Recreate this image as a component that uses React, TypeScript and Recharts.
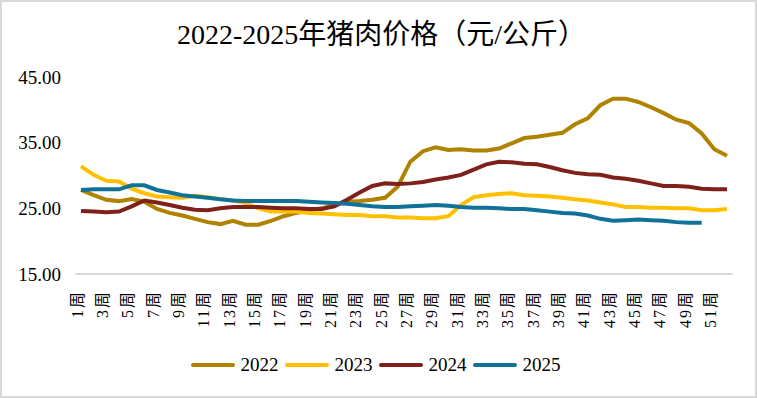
import React from 'react';
import { Legend, Line, LineChart, XAxis, YAxis } from 'recharts';

const FONT = "'Times New Roman', 'Liberation Serif', 'Noto Sans CJK SC', serif";

const weeks = [
  '1周', '2周', '3周', '4周', '5周', '6周', '7周', '8周', '9周', '10周',
  '11周', '12周', '13周', '14周', '15周', '16周', '17周', '18周', '19周', '20周',
  '21周', '22周', '23周', '24周', '25周', '26周', '27周', '28周', '29周', '30周',
  '31周', '32周', '33周', '34周', '35周', '36周', '37周', '38周', '39周', '40周',
  '41周', '42周', '43周', '44周', '45周', '46周', '47周', '48周', '49周', '50周',
  '51周', '52周',
];

const price2022 = [
  27.8, 27.0, 26.3, 26.1, 26.4, 26.0, 24.9, 24.3, 23.9, 23.4,
  22.9, 22.6, 23.1, 22.5, 22.5, 23.1, 23.8, 24.3, 24.7, 25.0,
  25.5, 26.0, 26.1, 26.3, 26.6, 28.3, 32.1, 33.7, 34.3, 33.9,
  34.0, 33.8, 33.8, 34.1, 34.9, 35.7, 35.9, 36.2, 36.5, 37.8,
  38.7, 40.7, 41.7, 41.7, 41.2, 40.4, 39.5, 38.5, 38.0, 36.4,
  34.0, 33.0,
];

const price2023 = [
  31.4, 30.1, 29.2, 29.1, 28.0, 27.3, 26.8, 26.7, 26.6, 26.9,
  26.7, 26.4, 26.2, 25.8, 25.0, 24.5, 24.5, 24.5, 24.3, 24.2,
  24.1, 24.0, 24.0, 23.8, 23.8, 23.6, 23.6, 23.5, 23.5, 23.8,
  25.5, 26.7, 27.0, 27.2, 27.3, 27.0, 26.9, 26.8, 26.6, 26.4,
  26.2, 25.9, 25.6, 25.2, 25.2, 25.1, 25.1, 25.0, 25.0, 24.7,
  24.7, 24.9,
];

const price2024 = [
  24.6, 24.5, 24.4, 24.5, 25.3, 26.2, 25.9, 25.5, 25.1, 24.8,
  24.7, 25.0, 25.2, 25.2, 25.2, 25.1, 25.0, 25.0, 24.9, 24.9,
  25.3, 26.3, 27.4, 28.4, 28.8, 28.7, 28.8, 29.0, 29.4, 29.7,
  30.1, 30.9, 31.7, 32.1, 32.0, 31.8, 31.7, 31.3, 30.8, 30.4,
  30.2, 30.1, 29.7, 29.5, 29.2, 28.8, 28.4, 28.4, 28.3, 28.0,
  27.9, 27.9,
];

const price2025 = [
  27.8, 27.9, 27.9, 27.9, 28.5, 28.5, 27.8, 27.4, 27.0, 26.8,
  26.6, 26.4, 26.2, 26.1, 26.1, 26.1, 26.1, 26.1, 26.0, 25.9,
  25.8, 25.7, 25.5, 25.3, 25.2, 25.2, 25.3, 25.4, 25.5, 25.4,
  25.2, 25.1, 25.1, 25.0, 24.9, 24.9, 24.7, 24.5, 24.3, 24.2,
  23.9, 23.4, 23.1, 23.2, 23.3, 23.2, 23.1, 22.9, 22.8, 22.8,
];

const yTicks = [15, 25, 35, 45];

const data = weeks.map((week, i) => ({
  week,
  y2022: price2022[i] ?? null,
  y2023: price2023[i] ?? null,
  y2024: price2024[i] ?? null,
  y2025: price2025[i] ?? null,
}));

const WeekTick = (props: any) => {
  const { x, y, payload } = props;
  return (
    <text
      x={0}
      y={0}
      dy={-4}
      transform={`translate(${x},${y + 8}) rotate(-90)`}
      textAnchor="end"
      dominantBaseline="central"
      fontSize={16}
      fontFamily={FONT}
      letterSpacing={2}
      fill="#000"
    >
      {payload.value}
    </text>
  );
};

const renderLegend = (props: any) => {
  const { payload } = props;
  return (
    <div
      style={{
        display: 'flex',
        justifyContent: 'center',
        alignItems: 'center',
        height: 30,
        fontFamily: FONT,
        fontSize: 19,
        color: '#000',
      }}
    >
      {payload.map((entry: any) => (
        <div key={entry.value} style={{ display: 'flex', alignItems: 'center', marginRight: 6 }}>
          <span
            style={{
              display: 'inline-block',
              width: 44,
              height: 4,
              borderRadius: 2,
              background: entry.color,
              marginRight: 6,
            }}
          />
          <span>{entry.value}</span>
        </div>
      ))}
    </div>
  );
};

export default function App() {
  return (
    <div
      style={{
        position: 'absolute',
        left: 0,
        top: 0,
        width: 757,
        height: 398,
        background: '#fff',
        overflow: 'hidden',
      }}
    >
      <div
        style={{
          position: 'absolute',
          left: 11,
          top: 19,
          width: 741,
          height: 32,
          lineHeight: '32px',
          textAlign: 'center',
          fontFamily: FONT,
          fontSize: 28,
          color: '#000',
        }}
      >
        2022-2025年猪肉价格（元/公斤）
      </div>
      <LineChart
        width={757}
        height={398}
        data={data}
        margin={{ top: 77, right: 24, left: 0, bottom: 34 }}
      >
        <XAxis
          dataKey="week"
          interval={1}
          height={60}
          padding={{ left: 6, right: 6 }}
          axisLine={{ stroke: '#d9d9d9', strokeWidth: 2 }}
          tickLine={false}
          tick={<WeekTick />}
        />
        <YAxis
          domain={[15, 45]}
          ticks={yTicks}
          width={75}
          axisLine={false}
          tickLine={false}
          tickMargin={8}
          tickFormatter={(v) => Number(v).toFixed(2)}
          tick={{ fill: '#000', fontSize: 19, fontFamily: FONT }}
        />
        <Legend
          verticalAlign="bottom"
          content={renderLegend}
          wrapperStyle={{ left: 0, width: 757, top: 350 }}
        />
        <Line type="linear" dataKey="y2022" name="2022" stroke="#AE8300" strokeWidth={4} dot={false} isAnimationActive={false} />
        <Line type="linear" dataKey="y2023" name="2023" stroke="#FFC000" strokeWidth={4} dot={false} isAnimationActive={false} />
        <Line type="linear" dataKey="y2024" name="2024" stroke="#80201A" strokeWidth={4} dot={false} isAnimationActive={false} />
        <Line type="linear" dataKey="y2025" name="2025" stroke="#107199" strokeWidth={4} dot={false} isAnimationActive={false} />
      </LineChart>
      <div
        style={{
          position: 'absolute',
          inset: 0,
          border: '2px solid #d9d9d9',
          pointerEvents: 'none',
        }}
      />
    </div>
  );
}
